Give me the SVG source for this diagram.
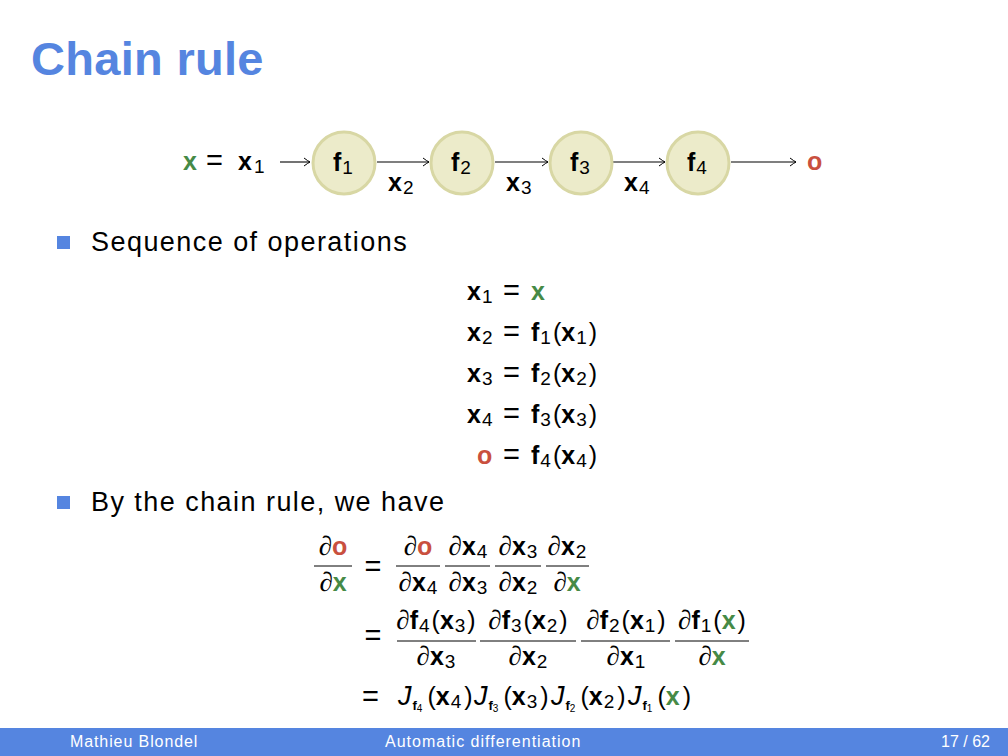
<svg xmlns="http://www.w3.org/2000/svg" width="1008" height="756" viewBox="0 0 1008 756">
<defs>
<style>
.t{font-family:"Liberation Sans",Arial,sans-serif;fill:#000}
.m{font-family:"Liberation Sans",Arial,sans-serif;font-size:25px;fill:#000}
.b{font-weight:bold}
.g{fill:#468a46}
.r{fill:#c9503e}
.d{font-family:"Liberation Serif","DejaVu Serif",serif;font-style:italic;font-size:27px}
.j{font-style:italic;font-size:27px}
.s{font-size:19px}
.eq{font-size:29px}
.node{fill:#ecebca;stroke:#d8d7a4;stroke-width:3}
.conn{stroke:#000;stroke-width:1.1;fill:none}
.fl{stroke:#000;stroke-width:1}
.blt{font-family:"Liberation Sans",Arial,sans-serif;font-size:27px;letter-spacing:1.45px;fill:#000}
.foot{font-family:"Liberation Sans",Arial,sans-serif;font-size:16px;fill:#fff}
</style>
<marker id="ah" viewBox="-8 -5 9 10" markerWidth="9" markerHeight="10" refX="0" refY="0" orient="auto" markerUnits="userSpaceOnUse">
<path d="M-6,-4 Q-2,-1 0,0 Q-2,1 -6,4" fill="none" stroke="#000" stroke-width="1"/>
</marker>
</defs>
<rect width="1008" height="756" fill="#fff"/>
<text x="31" y="75" class="t b" font-size="47" letter-spacing="0.3" style="fill:#5585e0">Chain rule</text>

<g id="connectors">
<line class="conn" x1="280" y1="162" x2="310" y2="162" marker-end="url(#ah)"/>
<line class="conn" x1="377" y1="162" x2="429" y2="162" marker-end="url(#ah)"/>
<line class="conn" x1="495" y1="162" x2="548" y2="162" marker-end="url(#ah)"/>
<line class="conn" x1="613" y1="162" x2="665" y2="162" marker-end="url(#ah)"/>
<line class="conn" x1="731" y1="162" x2="796" y2="162" marker-end="url(#ah)"/>
</g>

<g id="input">
<text class="m b g" x="183" y="170">x</text>
<text class="m eq" x="206" y="170">=</text>
<text class="m" x="238" y="170"><tspan class="b">x</tspan><tspan class="s" dx="2" dy="3">1</tspan></text>
</g>
<g id="f1"><circle class="node" cx="344" cy="163" r="31"/><text class="m" x="333" y="171"><tspan class="b">f</tspan><tspan class="s" dx="1" dy="3">1</tspan></text></g>
<g id="f2"><circle class="node" cx="462" cy="163" r="31"/><text class="m" x="451" y="171"><tspan class="b">f</tspan><tspan class="s" dx="1" dy="3">2</tspan></text></g>
<g id="f3"><circle class="node" cx="581" cy="163" r="31"/><text class="m" x="570" y="171"><tspan class="b">f</tspan><tspan class="s" dx="1" dy="3">3</tspan></text></g>
<g id="f4"><circle class="node" cx="698" cy="163" r="31"/><text class="m" x="687" y="171"><tspan class="b">f</tspan><tspan class="s" dx="1" dy="3">4</tspan></text></g>
<g id="output"><text class="m b r" x="807" y="170">o</text></g>
<g id="edge-labels">
<text class="m" x="388" y="191"><tspan class="b">x</tspan><tspan class="s" dx="1" dy="3">2</tspan></text>
<text class="m" x="506" y="191"><tspan class="b">x</tspan><tspan class="s" dx="1" dy="3">3</tspan></text>
<text class="m" x="624" y="191"><tspan class="b">x</tspan><tspan class="s" dx="1" dy="3">4</tspan></text>
</g>

<rect x="57" y="236" width="13" height="13" fill="#5585e0"/>
<text class="blt" x="91" y="251">Sequence of operations</text>

<g id="sequence">
<text class="m" x="467" y="300"><tspan class="b">x</tspan><tspan class="s" dx="1" dy="3">1</tspan></text>
<text class="m" x="467" y="341"><tspan class="b">x</tspan><tspan class="s" dx="1" dy="3">2</tspan></text>
<text class="m" x="467" y="382"><tspan class="b">x</tspan><tspan class="s" dx="1" dy="3">3</tspan></text>
<text class="m" x="467" y="423"><tspan class="b">x</tspan><tspan class="s" dx="1" dy="3">4</tspan></text>
<text class="m b r" x="477" y="464">o</text>
<text class="m eq" x="503" y="300">=</text>
<text class="m eq" x="503" y="341">=</text>
<text class="m eq" x="503" y="382">=</text>
<text class="m eq" x="503" y="423">=</text>
<text class="m eq" x="503" y="464">=</text>
<text class="m b g" x="531" y="300">x</text>
<text class="m" x="531" y="341"><tspan class="b">f</tspan><tspan class="s" dx="1" dy="3">1</tspan><tspan dx="2" dy="-3">(</tspan><tspan class="b">x</tspan><tspan class="s" dx="1" dy="3">1</tspan><tspan dx="2" dy="-3">)</tspan></text>
<text class="m" x="531" y="382"><tspan class="b">f</tspan><tspan class="s" dx="1" dy="3">2</tspan><tspan dx="2" dy="-3">(</tspan><tspan class="b">x</tspan><tspan class="s" dx="1" dy="3">2</tspan><tspan dx="2" dy="-3">)</tspan></text>
<text class="m" x="531" y="423"><tspan class="b">f</tspan><tspan class="s" dx="1" dy="3">3</tspan><tspan dx="2" dy="-3">(</tspan><tspan class="b">x</tspan><tspan class="s" dx="1" dy="3">3</tspan><tspan dx="2" dy="-3">)</tspan></text>
<text class="m" x="531" y="464"><tspan class="b">f</tspan><tspan class="s" dx="1" dy="3">4</tspan><tspan dx="2" dy="-3">(</tspan><tspan class="b">x</tspan><tspan class="s" dx="1" dy="3">4</tspan><tspan dx="2" dy="-3">)</tspan></text>
</g>

<rect x="57" y="496" width="13" height="13" fill="#5585e0"/>
<text class="blt" x="91" y="511">By the chain rule, we have</text>

<g id="chain" text-anchor="middle">
<text class="m" x="333" y="555"><tspan class="d">∂</tspan><tspan class="b r">o</tspan></text>
<line class="fl" x1="314" y1="566" x2="352" y2="566"/>
<text class="m" x="333" y="591"><tspan class="d">∂</tspan><tspan class="b g">x</tspan></text>
<text class="m eq" x="373" y="576">=</text>

<text class="m" x="418" y="555"><tspan class="d">∂</tspan><tspan class="b r">o</tspan></text>
<line class="fl" x1="396" y1="566" x2="440" y2="566"/>
<text class="m" x="418" y="591"><tspan class="d">∂</tspan><tspan class="b">x</tspan><tspan class="s" dx="1" dy="3">4</tspan></text>

<text class="m" x="468" y="555"><tspan class="d">∂</tspan><tspan class="b">x</tspan><tspan class="s" dx="1" dy="3">4</tspan></text>
<line class="fl" x1="445" y1="566" x2="490" y2="566"/>
<text class="m" x="468" y="591"><tspan class="d">∂</tspan><tspan class="b">x</tspan><tspan class="s" dx="1" dy="3">3</tspan></text>

<text class="m" x="518" y="555"><tspan class="d">∂</tspan><tspan class="b">x</tspan><tspan class="s" dx="1" dy="3">3</tspan></text>
<line class="fl" x1="495" y1="566" x2="541" y2="566"/>
<text class="m" x="518" y="591"><tspan class="d">∂</tspan><tspan class="b">x</tspan><tspan class="s" dx="1" dy="3">2</tspan></text>

<text class="m" x="567" y="555"><tspan class="d">∂</tspan><tspan class="b">x</tspan><tspan class="s" dx="1" dy="3">2</tspan></text>
<line class="fl" x1="546" y1="566" x2="589" y2="566"/>
<text class="m" x="567" y="591"><tspan class="d">∂</tspan><tspan class="b g">x</tspan></text>

<text class="m eq" x="373" y="645">=</text>
<text class="m" x="436" y="629"><tspan class="d">∂</tspan><tspan class="b">f</tspan><tspan class="s" dx="1" dy="3">4</tspan><tspan dx="2" dy="-3">(</tspan><tspan class="b">x</tspan><tspan class="s" dx="1" dy="3">3</tspan><tspan dx="2" dy="-3">)</tspan></text>
<line class="fl" x1="397" y1="641" x2="476" y2="641"/>
<text class="m" x="436" y="665"><tspan class="d">∂</tspan><tspan class="b">x</tspan><tspan class="s" dx="1" dy="3">3</tspan></text>

<text class="m" x="528" y="629"><tspan class="d">∂</tspan><tspan class="b">f</tspan><tspan class="s" dx="1" dy="3">3</tspan><tspan dx="2" dy="-3">(</tspan><tspan class="b">x</tspan><tspan class="s" dx="1" dy="3">2</tspan><tspan dx="2" dy="-3">)</tspan></text>
<line class="fl" x1="480" y1="641" x2="576" y2="641"/>
<text class="m" x="528" y="665"><tspan class="d">∂</tspan><tspan class="b">x</tspan><tspan class="s" dx="1" dy="3">2</tspan></text>

<text class="m" x="626" y="629"><tspan class="d">∂</tspan><tspan class="b">f</tspan><tspan class="s" dx="1" dy="3">2</tspan><tspan dx="2" dy="-3">(</tspan><tspan class="b">x</tspan><tspan class="s" dx="1" dy="3">1</tspan><tspan dx="2" dy="-3">)</tspan></text>
<line class="fl" x1="581" y1="641" x2="670" y2="641"/>
<text class="m" x="626" y="665"><tspan class="d">∂</tspan><tspan class="b">x</tspan><tspan class="s" dx="1" dy="3">1</tspan></text>

<text class="m" x="712" y="629"><tspan class="d">∂</tspan><tspan class="b">f</tspan><tspan class="s" dx="1" dy="3">1</tspan><tspan dx="2" dy="-3">(</tspan><tspan class="b g">x</tspan><tspan dx="2">)</tspan></text>
<line class="fl" x1="675" y1="641" x2="749" y2="641"/>
<text class="m" x="712" y="665"><tspan class="d">∂</tspan><tspan class="b g">x</tspan></text>
</g>
<g id="jacobian">
<text class="m eq" x="362" y="706">=</text>
<text class="m" x="398" y="705"><tspan class="j">J</tspan><tspan font-size="13" dx="1" dy="5" class="b">f</tspan><tspan font-size="10" dy="2">4</tspan><tspan dx="5" dy="-7">(</tspan><tspan class="b">x</tspan><tspan class="s" dx="1" dy="3">4</tspan><tspan dx="3" dy="-3">)</tspan></text>
<text class="m" x="474" y="705"><tspan class="j">J</tspan><tspan font-size="13" dx="1" dy="5" class="b">f</tspan><tspan font-size="10" dy="2">3</tspan><tspan dx="5" dy="-7">(</tspan><tspan class="b">x</tspan><tspan class="s" dx="1" dy="3">3</tspan><tspan dx="3" dy="-3">)</tspan></text>
<text class="m" x="551" y="705"><tspan class="j">J</tspan><tspan font-size="13" dx="1" dy="5" class="b">f</tspan><tspan font-size="10" dy="2">2</tspan><tspan dx="5" dy="-7">(</tspan><tspan class="b">x</tspan><tspan class="s" dx="1" dy="3">2</tspan><tspan dx="3" dy="-3">)</tspan></text>
<text class="m" x="628" y="705"><tspan class="j">J</tspan><tspan font-size="13" dx="1" dy="5" class="b">f</tspan><tspan font-size="10" dy="2">1</tspan><tspan dx="5" dy="-7">(</tspan><tspan class="b g">x</tspan><tspan dx="3">)</tspan></text>
</g>

<rect x="0" y="728" width="1008" height="28" fill="#5585e0"/>
<text class="foot" x="70" y="747" letter-spacing="0.9">Mathieu Blondel</text>
<text class="foot" x="385" y="747" letter-spacing="1">Automatic differentiation</text>
<text class="foot" x="941" y="747">17 / 62</text>
</svg>
